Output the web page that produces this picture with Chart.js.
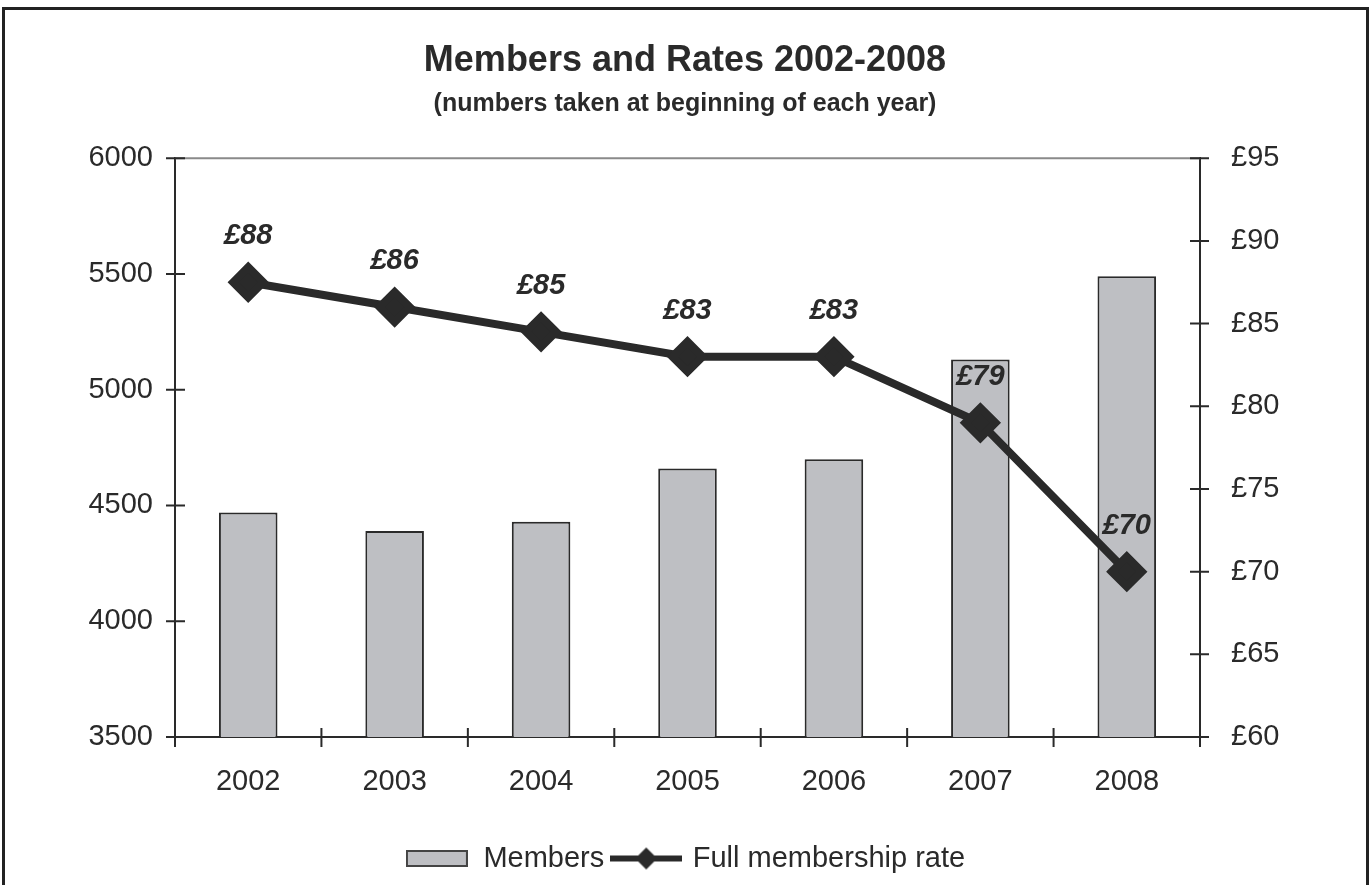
<!DOCTYPE html>
<html>
<head>
<meta charset="utf-8">
<script src="https://cdn.jsdelivr.net/npm/chart.js@4"></script>
<style>
  html, body { margin: 0; padding: 0; background: #fff; }
  #frame { position: absolute; left: 2px; top: 7px; width: 1361px; height: 900px; border: 3px solid #222; }
  #wrap { position: absolute; left: 0; top: 0; width: 1370px; height: 885px; }
</style>
</head>
<body>
<div id="frame"></div>
<div id="wrap"><canvas id="chart"></canvas></div>
<script>
const years = ['2002', '2003', '2004', '2005', '2006', '2007', '2008'];
const members = [4470, 4390, 4430, 4660, 4700, 5130, 5490];
const rates = [87.5, 86, 84.5, 83, 83, 79, 70];
const rateLabels = ['£88', '£86', '£85', '£83', '£83', '£79', '£70'];

const ink = '#2a2a2a';
const barFill = '#bebfc3';
const family = 'Liberation Sans, Arial, sans-serif';
const tickFont = { family: family, size: 29 };

// little pictures used as legend markers
function legendBox() {
  const c = document.createElement('canvas');
  c.width = 62; c.height = 17;
  const g = c.getContext('2d');
  g.fillStyle = barFill;
  g.fillRect(1, 1, 60, 15);
  g.strokeStyle = '#444'; g.lineWidth = 2;
  g.strokeRect(1, 1, 60, 15);
  return c;
}
function legendLine() {
  const c = document.createElement('canvas');
  c.width = 72; c.height = 24;
  const g = c.getContext('2d');
  g.fillStyle = ink;
  g.fillRect(0, 9, 72, 6);
  g.beginPath();
  g.moveTo(36, 1); g.lineTo(47, 12); g.lineTo(36, 23); g.lineTo(25, 12);
  g.closePath(); g.fill();
  return c;
}

// ticks that cross the axis lines, the grey line at the top, and the £ labels
const axisMarks = {
  id: 'axisMarks',
  beforeDatasetsDraw(chart) {
    const { ctx, chartArea: a, scales } = chart;
    ctx.save();
    ctx.strokeStyle = '#8a8a8a';
    ctx.lineWidth = 2;
    const yTop = scales.y.getPixelForValue(6000);
    ctx.beginPath(); ctx.moveTo(a.left, yTop); ctx.lineTo(a.right, yTop); ctx.stroke();

    ctx.strokeStyle = ink;
    ctx.lineWidth = 2;
    ctx.beginPath();
    scales.y.ticks.forEach((t, i) => {
      const p = scales.y.getPixelForTick(i);
      ctx.moveTo(a.left - 9, p); ctx.lineTo(a.left + 10, p);
    });
    scales.y1.ticks.forEach((t, i) => {
      const p = scales.y1.getPixelForTick(i);
      ctx.moveTo(a.right - 10, p); ctx.lineTo(a.right + 9, p);
    });
    const step = (a.right - a.left) / years.length;
    for (let i = 0; i <= years.length; i++) {
      const px = a.left + i * step;
      ctx.moveTo(px, a.bottom - 9); ctx.lineTo(px, a.bottom + 10);
    }
    ctx.stroke();
    ctx.restore();
  },
  afterDatasetsDraw(chart) {
    const { ctx } = chart;
    const meta = chart.getDatasetMeta(1);
    ctx.save();
    ctx.font = 'italic bold 29px ' + family;
    ctx.fillStyle = ink;
    ctx.textAlign = 'center';
    ctx.textBaseline = 'middle';
    meta.data.forEach((pt, i) => {
      ctx.fillText(rateLabels[i], pt.x, pt.y - 46);
    });
    ctx.restore();
  }
};

new Chart(document.getElementById('chart'), {
  data: {
    labels: years,
    datasets: [
      {
        type: 'bar',
        label: 'Members',
        data: members,
        yAxisID: 'y',
        backgroundColor: barFill,
        borderColor: ink,
        borderWidth: 2,
        barPercentage: 0.8,
        categoryPercentage: 0.5,
        order: 2
      },
      {
        type: 'line',
        label: 'Full membership rate',
        data: rates,
        yAxisID: 'y1',
        borderColor: ink,
        backgroundColor: ink,
        borderWidth: 8,
        pointStyle: 'rectRot',
        pointRadius: 15,
        pointHoverRadius: 15,
        tension: 0,
        order: 1
      }
    ]
  },
  options: {
    responsive: true,
    maintainAspectRatio: false,
    animation: false,
    layout: { padding: { left: 0, right: 0, top: 0, bottom: 2 } },
    plugins: {
      title: {
        display: true,
        text: 'Members and Rates 2002-2008',
        color: ink,
        font: { family: family, size: 36, weight: 'bold' },
        padding: { top: 39, bottom: 0 }
      },
      subtitle: {
        display: true,
        text: '(numbers taken at beginning of each year)',
        color: ink,
        font: { family: family, size: 25, weight: 'bold' },
        padding: { top: 7, bottom: 39 }
      },
      legend: {
        position: 'bottom',
        labels: {
          color: ink,
          font: { family: family, size: 29 },
          usePointStyle: true,
          pointStyleWidth: 64,
          padding: 10,
          generateLabels(chart) {
            return [
              { text: 'Members', pointStyle: legendBox(), fontColor: ink, datasetIndex: 0, lineWidth: 0 },
              { text: 'Full membership rate', pointStyle: legendLine(), fontColor: ink, datasetIndex: 1, lineWidth: 0 }
            ];
          }
        }
      },
      tooltip: { enabled: false }
    },
    scales: {
      x: {
        grid: { display: false, drawTicks: false },
        border: { display: true, color: ink, width: 2 },
        ticks: { color: ink, font: tickFont, padding: 28 },
        afterFit(s) { s.height = 97; }
      },
      y: {
        position: 'left',
        min: 3500,
        max: 6000,
        grid: { display: false, drawTicks: false },
        border: { display: true, color: ink, width: 2 },
        ticks: { stepSize: 500, color: ink, font: tickFont, padding: 22, callback: v => String(v) },
        afterFit(s) { s.width = 175; }
      },
      y1: {
        position: 'right',
        min: 60,
        max: 95,
        grid: { display: false, drawTicks: false },
        border: { display: true, color: ink, width: 2 },
        ticks: { stepSize: 5, color: ink, font: tickFont, padding: 31, callback: v => '£' + v },
        afterFit(s) { s.width = 170; }
      }
    }
  },
  plugins: [axisMarks]
});
</script>
</body>
</html>
